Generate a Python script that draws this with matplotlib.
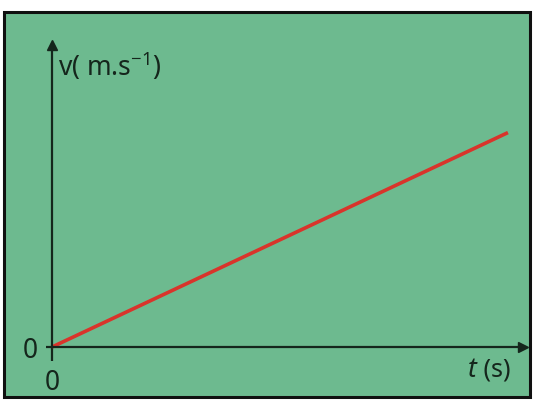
import matplotlib.pyplot as plt
from matplotlib.patches import Rectangle

# données : vitesse linéaire en fonction du temps
t = [0, 10]
v = [0, 7.1]
t_max = 10.33
v_max = 10.0

bg = '#6dba8f'
ink = '#15261c'

fig = plt.figure(figsize=(5.34, 4.04), dpi=100)
fig.patch.set_facecolor('white')

# cadre vert avec bordure noire
fig.patches.append(Rectangle((4 / 534, 7 / 404), 526 / 534, 385 / 404,
                             transform=fig.transFigure, facecolor=bg,
                             edgecolor='#101010', linewidth=2.2, zorder=-5))

ax = fig.add_axes([52 / 534, 57 / 404, 471 / 534, 302 / 404])
ax.set_facecolor('none')
ax.plot(t, v, color='#d9342b', linewidth=2.6, solid_capstyle='butt', clip_on=False)
ax.set_xlim(0, t_max)
ax.set_ylim(0, v_max)

for s in ['top', 'right']:
    ax.spines[s].set_visible(False)
for s in ['left', 'bottom']:
    ax.spines[s].set_color(ink)
    ax.spines[s].set_linewidth(1.6)

# flèches des axes
ax.plot(1, 0, '>', color=ink, markersize=7, transform=ax.get_yaxis_transform(), clip_on=False)
ax.plot(0, 1, '^', color=ink, markersize=7, transform=ax.get_xaxis_transform(), clip_on=False)

ax.set_xticks([0])
ax.set_yticks([0])
ax.tick_params(axis='x', length=10, width=1.6, color=ink, pad=6, labelsize=19, labelcolor=ink)
ax.tick_params(axis='y', length=4, width=1.6, color=ink, pad=6, labelsize=19, labelcolor=ink)
for lab in ax.get_xticklabels() + ax.get_yticklabels():
    lab.set_family('Noto Sans')

ax.text(0.012, 1.0 - 22 / 302, r'v( m.s$^{\mathregular{-1}}$)', transform=ax.transAxes,
        fontsize=19, color=ink, family='Noto Sans', va='center', ha='left')
ax.text(425 / 471, -23 / 302, 't', transform=ax.transAxes, fontstyle='italic',
        fontsize=19, color=ink, family='Noto Sans', va='center', ha='right')
ax.text(425 / 471, -23 / 302, ' (s)', transform=ax.transAxes,
        fontsize=18, color=ink, family='Noto Sans', va='center', ha='left')

fig.savefig('out.png', dpi=100)
